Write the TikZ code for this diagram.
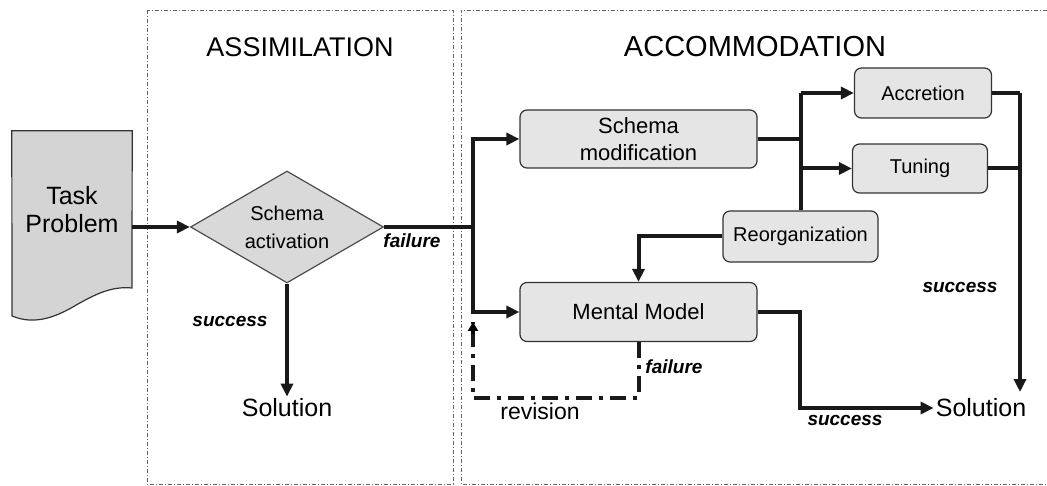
\documentclass[tikz,border=0pt]{standalone}
\usepackage{fontspec}
\setmainfont{Liberation Sans}
\usetikzlibrary{arrows.meta,shapes.geometric}
\tikzset{
  panel/.style={draw=black!60, line width=0.8pt, dash pattern=on 4pt off 2pt on 1pt off 2pt},
  box/.style={draw=black!80, line width=1.2pt, fill=black!10, rounded corners=7pt, inner sep=0pt, align=center},
  conn/.style={line width=4pt, draw=black!90},
  arr/.style={conn, -{Triangle[length=13pt,width=12pt]}},
  lbl/.style={font=\fontsize{19}{21}\selectfont\bfseries\itshape, inner sep=0pt},
  big/.style={font=\fontsize{25}{28}\selectfont, inner sep=2pt, align=center},
}
\begin{document}
\begin{tikzpicture}[x=1pt,y=-1pt]
\useasboundingbox (0,0) rectangle (1047,486);
% panels
\draw[panel] (147,10) rectangle (453,484);
\draw[panel] (1047,10) -- (461,10) -- (461,484) -- (1047,484);
\node[font=\fontsize{27}{30}\selectfont] (hA) at (300,47) {ASSIMILATION};
\node[font=\fontsize{29}{32}\selectfont] (hB) at (755,47) {ACCOMMODATION};
% Task problem
\node[minimum width=120pt, minimum height=192pt, inner sep=0pt] (tp) at (72,227) {};
\draw[draw=black!80, line width=1.2pt, fill=black!17]
  (tp.north west) -- (tp.north east) -- (132,288)
  .. controls (112,286) and (96,294) .. (78,304)
  .. controls (58,316) and (36,326) .. (12,316) -- cycle;
\node[big] (tpt) at (72,210) {Task\\Problem};
% diamond
\node[diamond, draw=black!70, line width=1.2pt, fill=black!15, minimum width=193pt, minimum height=112pt, inner sep=0pt, aspect=1.72, align=center, font=\fontsize{20}{28}\selectfont] (sa) at (287,227) {Schema\\activation};
\node[big] (sol1) at (287,408) {Solution};
% boxes
\node[box, minimum width=237pt, minimum height=58pt, font=\fontsize{22}{27}\selectfont] (sm) at (638.5,139) {Schema\\modification};
\node[box, minimum width=237pt, minimum height=59pt, font=\fontsize{22}{26}\selectfont] (mm) at (638.5,312) {Mental Model};
\node[box, minimum width=137pt, minimum height=50pt, font=\fontsize{20}{24}\selectfont] (acc) at (923,93) {Accretion};
\node[box, minimum width=135pt, minimum height=49pt, font=\fontsize{20}{24}\selectfont] (tun) at (920,168.5) {Tuning};
\node[box, minimum width=155pt, minimum height=51pt, font=\fontsize{20}{24}\selectfont] (reo) at (800.5,236.5) {Reorganization};
\node[big] (sol2) at (981,408) {Solution};
% coordinates
\coordinate (j1) at (473,227);
\coordinate (jt) at (800.5,93);
\coordinate (jr) at (1020,93);
\coordinate (e2) at (1020,392);
\coordinate (j3) at (800,312);
\coordinate (f1) at (638.5,398);
\coordinate (f2) at (473,398);
\coordinate (f3) at (473,322);
% connectors
\draw[arr] (tp.east) -- (sa.west);
\draw[arr] (sa.south) -- (sol1.north);
\draw[conn] (sa.east) -- (j1);
\draw[arr] (j1) |- (sm.west);
\draw[arr] (j1) |- (mm.west);
\draw[conn] (sm.east) -- (sm.east -| jt);
\draw[conn] (reo.north) -- (jt);
\draw[arr] (jt) -- (acc.west);
\draw[arr] (tun.west -| jt) -- (tun.west);
\draw[arr] (reo.west) -| (mm.north);
\draw[conn] (acc.east) -- (jr);
\draw[conn] (tun.east) -- (tun.east -| jr);
\draw[arr] (jr) -- (e2);
\draw[arr] (mm.east) -- (j3) |- (sol2.west);
\draw[conn, dash pattern=on 16pt off 7pt on 4pt off 7pt] (mm.south) -- (f1) -- (f2) -- (f3);
\draw[line width=4pt, -{Triangle[length=9pt,width=10pt]}] (473,334) -- (f3);
% labels
\node[lbl] (l1) at (412,241) {failure};
\node[lbl] (l2) at (230,321) {success};
\node[lbl] (l3) at (960,287) {success};
\node[lbl] (l4) at (845,420) {success};
\node[lbl] (l5) at (674,367) {failure};
\node[font=\fontsize{23}{26}\selectfont, inner sep=0pt] (rv) at (540,411) {revision};
\end{tikzpicture}
\end{document}
